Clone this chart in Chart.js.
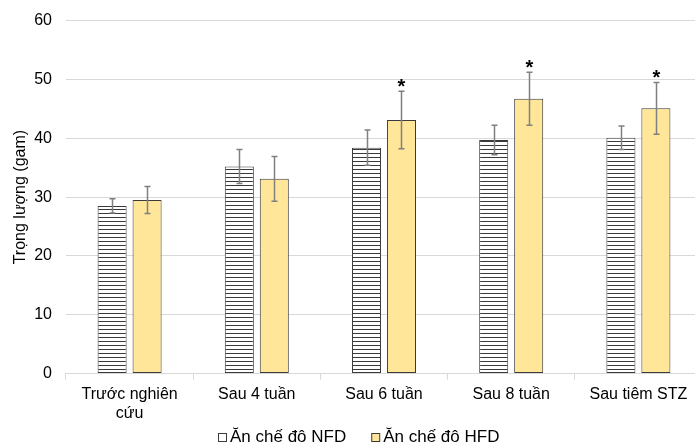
<!DOCTYPE html>
<html>
<head>
<meta charset="utf-8">
<script src="https://cdn.jsdelivr.net/npm/chart.js@4"></script>
<style>
  html,body{margin:0;padding:0;background:#fff;overflow:hidden;}
  #wrap{width:705px;height:447px;margin-top:-3px;}
</style>
</head>
<body>
<div id="wrap"><canvas id="chart"></canvas></div>
<script>
// Data
const labels = [["Trước nghiên", "cứu"], "Sau 4 tuần", "Sau 6 tuần", "Sau 8 tuần", "Sau tiêm STZ"];
const seriesNames = ["Ăn chế đô NFD", "Ăn chế đô HFD"];
const nfd = [28.5, 35.2, 38.4, 39.7, 40.1];
const nfdErr = [1.2, 2.9, 3.0, 2.5, 2.0];
const hfd = [29.5, 33.1, 43.1, 46.7, 45.1];
const hfdErr = [2.3, 3.8, 4.9, 4.5, 4.4];
const hfdStar = [false, false, true, true, true];
const yTicks = [0, 10, 20, 30, 40, 50, 60];

const ff='"Liberation Sans", Arial, sans-serif';
const yellow='#ffe699', edge='#3a3a3a';

// horizontal line hatch for NFD
function hatch(){
  const c=document.createElement('canvas');
  c.width=8; c.height=4;
  const g=c.getContext('2d');
  g.fillStyle='#fff'; g.fillRect(0,0,8,4);
  g.fillStyle=edge; g.fillRect(0,0,8,1);
  return g.createPattern(c,'repeat');
}

// error bars + significance marks
const errPlugin={
  id:'errBars',
  afterDatasetsDraw(chart){
    const ctx=chart.ctx, y=chart.scales.y;
    const errs=[nfdErr, hfdErr];
    chart.data.datasets.forEach((ds,i)=>{
      const meta=chart.getDatasetMeta(i);
      meta.data.forEach((bar,j)=>{
        const v=ds.data[j], e=errs[i][j];
        const top=y.getPixelForValue(v+e), bot=y.getPixelForValue(v-e);
        const x=Math.round(bar.x)+0.5;
        ctx.save();
        ctx.strokeStyle='#808080'; ctx.lineWidth=1.5;
        ctx.beginPath();
        ctx.moveTo(x,top); ctx.lineTo(x,bot);
        ctx.moveTo(x-3,top); ctx.lineTo(x+3,top);
        ctx.moveTo(x-3,bot); ctx.lineTo(x+3,bot);
        ctx.stroke();
        if(i===1 && hfdStar[j]){
          ctx.fillStyle='#000';
          ctx.font='bold 20px '+ff;
          ctx.textAlign='center'; ctx.textBaseline='bottom';
          ctx.fillText('*', x, top+6);
        }
        ctx.restore();
      });
    });
  }
};

// legend drawn under the axis, Excel style
const legendPlugin={
  id:'bottomLegend',
  afterDraw(chart){
    const ctx=chart.ctx, ca=chart.chartArea;
    ctx.save();
    ctx.font='17px '+ff;
    ctx.textBaseline='middle';
    const box=9, gap=3, itemGap=25;
    const widths=seriesNames.map(t=>box+gap+ctx.measureText(t).width);
    const total=widths[0]+itemGap+widths[1];
    let x=Math.round(ca.left+ca.width*0.46-total/2);
    const y=440;
    seriesNames.forEach((t,i)=>{
      ctx.fillStyle=i===0?'#fff':yellow;
      ctx.fillRect(x+0.5,y-box/2+1,box-1,box-1);
      ctx.strokeStyle=edge; ctx.lineWidth=1;
      ctx.strokeRect(x+0.5,y-box/2+1,box-1,box-1);
      ctx.fillStyle='#000';
      ctx.fillText(t,x+box+gap,y);
      x+=widths[i]+itemGap;
    });
    ctx.restore();
  }
};

new Chart(document.getElementById('chart'),{
  type:'bar',
  data:{
    labels:labels,
    datasets:[
      {label:seriesNames[0], data:nfd, backgroundColor:hatch(), borderColor:edge, borderWidth:1, borderSkipped:false,
       barPercentage:0.83, categoryPercentage:0.55},
      {label:seriesNames[1], data:hfd, backgroundColor:yellow, borderColor:edge, borderWidth:1, borderSkipped:false,
       barPercentage:0.83, categoryPercentage:0.55}
    ]
  },
  options:{
    responsive:true, maintainAspectRatio:false, animation:false,
    layout:{padding:{top:0, right:3, left:8, bottom:16}},
    plugins:{
      tooltip:{enabled:false},
      legend:{display:false}
    },
    scales:{
      x:{
        grid:{display:true, drawOnChartArea:false, drawTicks:true, tickLength:6, color:'#d9d9d9', offset:true},
        border:{display:true, color:'#d9d9d9'},
        ticks:{font:{family:ff, size:16}, color:'#000', maxRotation:0, autoSkip:false, padding:5}
      },
      y:{
        min:0, max:60,
        afterBuildTicks(ax){ ax.ticks=yTicks.map(v=>({value:v})); },
        grid:{color:'#d9d9d9', drawTicks:false},
        border:{display:false},
        ticks:{font:{family:ff, size:16}, color:'#000', padding:14},
        title:{display:true, text:'Trọng lượng (gam)', font:{family:ff, size:16}, color:'#000', padding:{top:3,bottom:-10}}
      }
    }
  },
  plugins:[errPlugin, legendPlugin]
});
</script>
</body>
</html>
